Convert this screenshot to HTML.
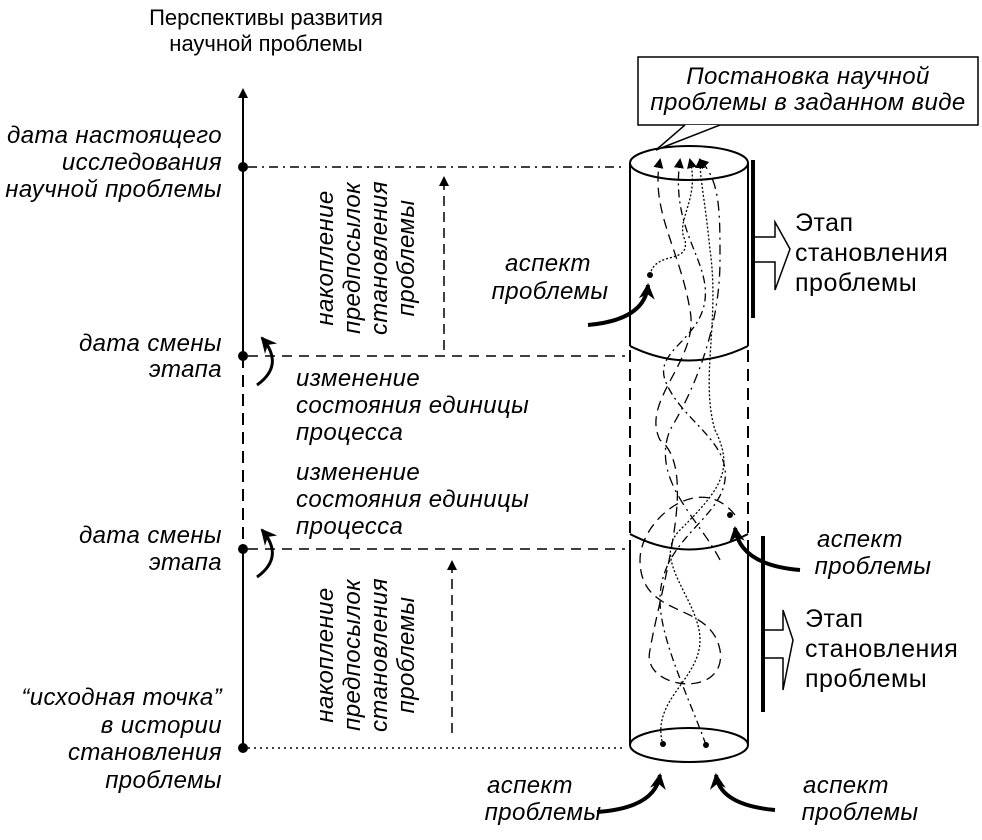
<!DOCTYPE html>
<html><head><meta charset="utf-8"><style>
body{margin:0;background:#fff;}
svg{display:block;}
text{font-family:"Liberation Sans",Arial,sans-serif;font-size:22px;fill:#000;}
.i{font-style:italic;font-size:24px;letter-spacing:0.4px;}
.b{font-size:25px;letter-spacing:0.5px;}
</style></head><body>
<svg width="982" height="840" viewBox="0 0 982 840" xmlns="http://www.w3.org/2000/svg">
<defs>
<marker id="ah" markerWidth="10" markerHeight="10" refX="8" refY="5" orient="auto" markerUnits="userSpaceOnUse"><path d="M0,0 L10,5 L0,10 Z"/></marker>
<marker id="ab" markerWidth="18" markerHeight="18" refX="14" refY="9" orient="auto" markerUnits="userSpaceOnUse"><path d="M0,1 L16,9 L0,17 L5,9 Z"/></marker>
</defs>
<text x="266" y="25" text-anchor="middle">Перспективы развития</text>
<text x="266" y="51" text-anchor="middle">научной проблемы</text>
<line x1="243" y1="356" x2="243" y2="90" stroke="#000" stroke-width="2" marker-end="url(#ah)"/>
<line x1="243" y1="356" x2="243" y2="549" stroke="#000" stroke-width="2" stroke-dasharray="12,7"/>
<line x1="243" y1="549" x2="243" y2="748" stroke="#000" stroke-width="2"/>
<circle cx="243" cy="167" r="5"/><circle cx="243" cy="356" r="5"/><circle cx="243" cy="549" r="5"/><circle cx="243" cy="748" r="5"/>
<g text-anchor="end">
<text class="i" x="222" y="143">дата настоящего</text>
<text class="i" x="222" y="170">исследования</text>
<text class="i" x="222" y="197">научной проблемы</text>
<text class="i" x="222" y="351">дата смены</text>
<text class="i" x="222" y="377">этапа</text>
<text class="i" x="222" y="543">дата смены</text>
<text class="i" x="222" y="570">этапа</text>
<text class="i" x="222" y="705">“исходная точка”</text>
<text class="i" x="222" y="733">в истории</text>
<text class="i" x="222" y="760">становления</text>
<text class="i" x="222" y="788">проблемы</text>
</g>
<line x1="248" y1="167" x2="625" y2="167" stroke="#000" stroke-width="1.5" stroke-dasharray="9,5,2,5"/>
<line x1="248" y1="356" x2="625" y2="356" stroke="#000" stroke-width="1.5" stroke-dasharray="10,7"/>
<line x1="248" y1="549" x2="625" y2="549" stroke="#000" stroke-width="1.5" stroke-dasharray="10,7"/>
<line x1="248" y1="748" x2="625" y2="748" stroke="#000" stroke-width="1.5" stroke-dasharray="2,4"/>
<path d="M257,385 Q285,365 262,338" fill="none" stroke="#000" stroke-width="3" marker-end="url(#ab)"/>
<path d="M257,577 Q285,557 262,530" fill="none" stroke="#000" stroke-width="3" marker-end="url(#ab)"/>
<text class="i" x="296" y="386">изменение</text>
<text class="i" x="296" y="413">состояния единицы</text>
<text class="i" x="296" y="440">процесса</text>
<text class="i" x="296" y="480">изменение</text>
<text class="i" x="296" y="507">состояния единицы</text>
<text class="i" x="296" y="534">процесса</text>
<text class="i" transform="translate(333,258) rotate(-90)" text-anchor="middle">накопление</text>
<text class="i" transform="translate(360,258) rotate(-90)" text-anchor="middle">предпосылок</text>
<text class="i" transform="translate(387,258) rotate(-90)" text-anchor="middle">становления</text>
<text class="i" transform="translate(414,258) rotate(-90)" text-anchor="middle">проблемы</text>
<text class="i" transform="translate(333,655) rotate(-90)" text-anchor="middle">накопление</text>
<text class="i" transform="translate(360,655) rotate(-90)" text-anchor="middle">предпосылок</text>
<text class="i" transform="translate(387,655) rotate(-90)" text-anchor="middle">становления</text>
<text class="i" transform="translate(414,655) rotate(-90)" text-anchor="middle">проблемы</text>
<line x1="444" y1="350" x2="444" y2="178" stroke="#000" stroke-width="1.5" stroke-dasharray="10,6" marker-end="url(#ah)"/>
<line x1="452" y1="733" x2="452" y2="562" stroke="#000" stroke-width="1.5" stroke-dasharray="10,6" marker-end="url(#ah)"/>
<g fill="none" stroke="#000" stroke-width="2">
<ellipse cx="689" cy="163" rx="59" ry="17"/>
<line x1="630" y1="163" x2="630" y2="346"/><line x1="748" y1="163" x2="748" y2="346"/>
<path d="M630,346 Q689,375 748,346"/>
<line x1="630" y1="350" x2="630" y2="540" stroke-dasharray="12,7"/><line x1="748" y1="350" x2="748" y2="540" stroke-dasharray="12,7"/>
<path d="M630,534 Q689,565 748,534"/>
<line x1="630" y1="540" x2="630" y2="745"/><line x1="748" y1="540" x2="748" y2="745"/>
<ellipse cx="689" cy="745" rx="59" ry="17"/>
</g>
<g fill="none" stroke="#000" stroke-width="1.3">
<path d="M650,275 C655,250 690,265 685,240 C675,220 700,200 690,160" stroke-dasharray="2,2" marker-end="url(#ah)"/>
<path d="M663,745 C650,700 700,680 700,640 C700,600 650,560 680,530 C720,490 735,470 715,430 C700,380 720,320 710,250 C705,200 700,180 700,160" stroke-dasharray="2,2" marker-end="url(#ah)"/>
<path d="M706,745 C690,700 660,640 660,600 C660,540 720,520 725,480 C730,440 680,420 665,380 C655,350 700,340 705,300 C710,260 670,230 680,160" stroke-dasharray="8,4,2,4" marker-end="url(#ah)"/>
<path d="M735,515 C700,470 640,520 640,560 C640,620 710,600 720,650 C728,700 640,690 650,650 C660,590 700,470 660,440 C640,400 700,360 690,310 C680,250 650,210 660,160" stroke-dasharray="10,6" marker-end="url(#ah)"/>
<path d="M720,560 C700,520 650,480 670,430 C700,380 720,320 720,260 C720,210 720,180 700,160" stroke-dasharray="10,5,2,5" marker-end="url(#ah)"/>
</g>
<circle cx="650" cy="275" r="3"/><circle cx="730" cy="515" r="3"/><circle cx="663" cy="744" r="3"/><circle cx="706" cy="745" r="3"/>
<rect x="638" y="57" width="340" height="68" fill="#fff" stroke="#000" stroke-width="1.5"/>
<text class="i" x="808" y="84" text-anchor="middle">Постановка научной</text>
<text class="i" x="808" y="110" text-anchor="middle">проблемы в заданном виде</text>
<path d="M685,125 L656,150 L720,125" fill="#fff" stroke="#000" stroke-width="1.5"/>
<line x1="753" y1="160" x2="753" y2="318" stroke="#000" stroke-width="4"/>
<path d="M755,237 H775 V222 L790,249 L775,290 V262 H755" fill="#fff" stroke="#000" stroke-width="1.5"/>
<line x1="763" y1="536" x2="763" y2="712" stroke="#000" stroke-width="4"/>
<path d="M765,630 H783 V610 L793,640 L783,690 V658 H765" fill="#fff" stroke="#000" stroke-width="1.5"/>
<text class="b" x="795" y="231">Этап</text>
<text class="b" x="795" y="261">становления</text>
<text class="b" x="795" y="291">проблемы</text>
<text class="b" x="805" y="627">Этап</text>
<text class="b" x="805" y="657">становления</text>
<text class="b" x="805" y="687">проблемы</text>
<g fill="none" stroke="#000" stroke-width="4">
<path d="M588,325 Q645,320 648,285" marker-end="url(#ab)"/>
<path d="M800,570 Q740,565 735,528" marker-end="url(#ab)"/>
<path d="M597,812 Q655,808 660,775" marker-end="url(#ab)"/>
<path d="M775,810 Q720,805 716,775" marker-end="url(#ab)"/>
</g>
<g text-anchor="middle">
<text class="i" x="548" y="271">аспект</text>
<text class="i" x="550" y="299">проблемы</text>
<text class="i" x="860" y="547">аспект</text>
<text class="i" x="873" y="574">проблемы</text>
<text class="i" x="530" y="793">аспект</text>
<text class="i" x="543" y="820">проблемы</text>
<text class="i" x="846" y="793">аспект</text>
<text class="i" x="860" y="820">проблемы</text>
</g>
</svg>
</body></html>
